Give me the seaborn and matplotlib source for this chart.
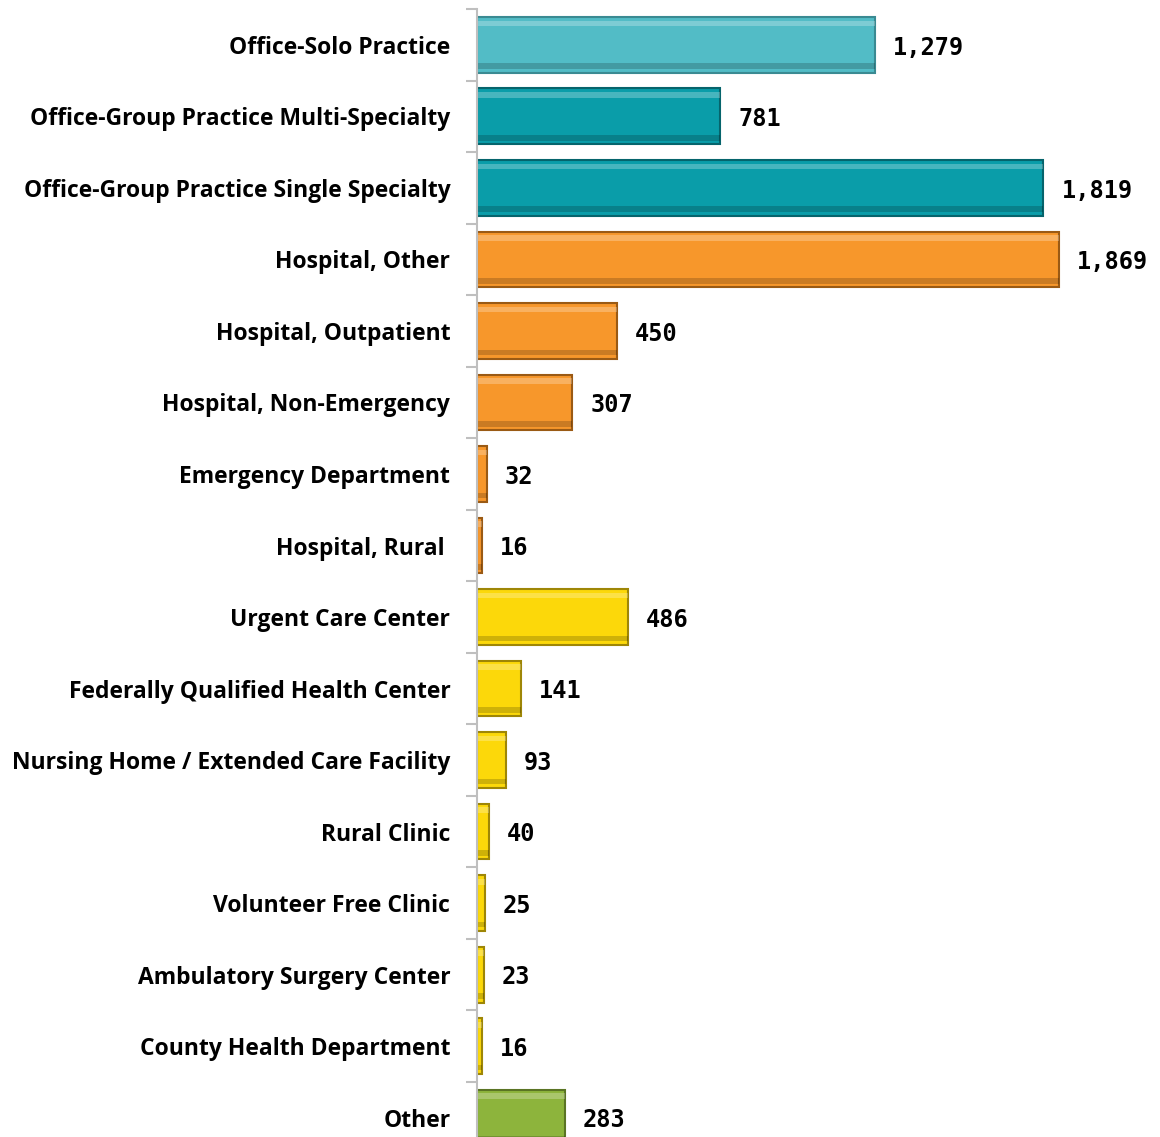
import matplotlib
matplotlib.use("Agg")
import matplotlib.pyplot as plt
import seaborn as sns
import numpy as np

categories = ["Office-Solo Practice", "Office-Group Practice Multi-Specialty",
              "Office-Group Practice Single Specialty", "Hospital, Other",
              "Hospital, Outpatient", "Hospital, Non-Emergency",
              "Emergency Department", "Hospital, Rural ", "Urgent Care Center",
              "Federally Qualified Health Center",
              "Nursing Home / Extended Care Facility", "Rural Clinic",
              "Volunteer Free Clinic", "Ambulatory Surgery Center",
              "County Health Department", "Other"]
counts = [1279, 781, 1819, 1869, 450, 307, 32, 16, 486, 141, 93, 40, 25, 23, 16, 283]
bar_colors = ["#52BCC6", "#0A9DA9", "#0A9DA9", "#F7972B", "#F7972B", "#F7972B",
              "#F7972B", "#F7972B", "#FCD80A", "#FCD80A", "#FCD80A", "#FCD80A",
              "#FCD80A", "#FCD80A", "#FCD80A", "#8DB43C"]
edge_colors = ["#3A8A92", "#06646C", "#06646C", "#9A5A14", "#9A5A14", "#9A5A14",
               "#9A5A14", "#9A5A14", "#9E8606", "#9E8606", "#9E8606", "#9E8606",
               "#9E8606", "#9E8606", "#9E8606", "#5A7424"]

sns.set_style("white")
fig = plt.figure(figsize=(11.6, 11.37), dpi=100)
ax = fig.add_axes([0.411, 0.0, 0.589, 0.992])

sns.barplot(x=counts, y=categories, hue=categories, palette=bar_colors,
            legend=False, orient="h", width=0.78, ax=ax, saturation=1)
for patch, ec in zip(ax.patches, edge_colors):
    patch.set_edgecolor(ec)
    patch.set_linewidth(1.5)

# bevel highlight / shadow strips
pos = np.arange(len(categories))
ax.barh(pos - 0.30, counts, height=0.08, color="white", alpha=0.25, linewidth=0)
ax.barh(pos + 0.30, counts, height=0.08, color="black", alpha=0.18, linewidth=0)

for i, v in enumerate(counts):
    ax.annotate(f"{v:,}", (v, i), xytext=(13, -2), textcoords="offset points",
                va="center", ha="left", fontsize=17, fontweight="bold",
                family="DejaVu Sans Mono", color="black")

ax.set_xticks([])
ax.set_xlabel("")
ax.set_ylabel("")
for s in ["top", "right", "bottom"]:
    ax.spines[s].set_visible(False)
ax.spines["left"].set_color("#BFBFBF")
ax.spines["left"].set_linewidth(1.5)

ax.tick_params(axis="y", which="major", length=0, pad=19)
ax.set_yticks(np.arange(-0.5, 15.5, 1), minor=True)
ax.tick_params(axis="y", which="minor", length=8, color="#BFBFBF", width=1.5, left=True)
for lab in ax.get_yticklabels():
    lab.set_fontfamily("Open Sans")
    lab.set_fontweight("bold")
    lab.set_fontsize(16.5)
    lab.set_color("black")

ax.set_xlim(0, 2193)
ax.set_ylim(15.27, -0.5)

fig.savefig("out.png", dpi=100)
